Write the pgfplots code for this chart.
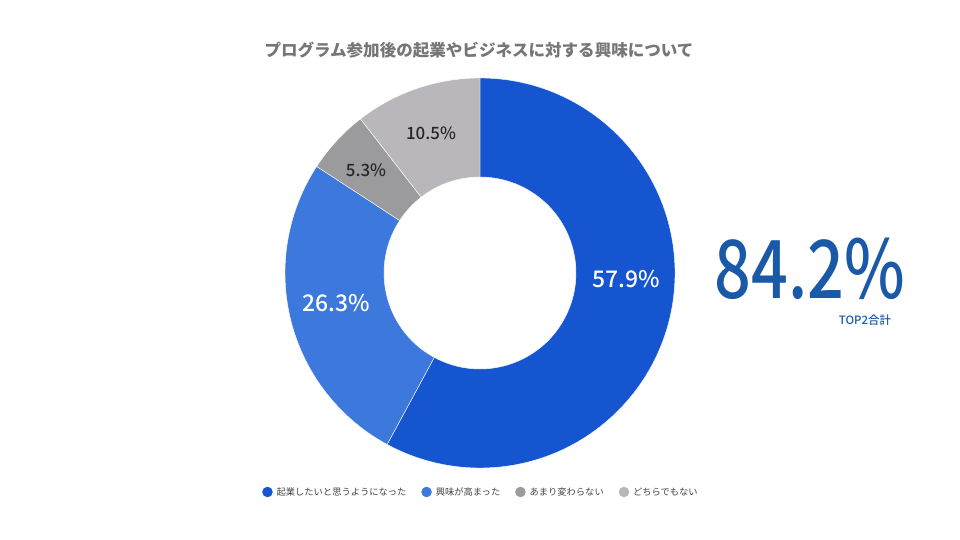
\documentclass[border=0pt]{standalone}
\usepackage{pgfplots}
\pgfplotsset{compat=1.18}
\usepackage{fontspec}
\setmainfont{Noto Sans CJK JP}
\newfontfamily\medfont{Noto Sans CJK JP Medium}
\definecolor{cA}{HTML}{1555D0}
\definecolor{cB}{HTML}{3D78DC}
\definecolor{cC}{HTML}{9B9A9D}
\definecolor{cD}{HTML}{B9B7BB}
\definecolor{ctitle}{HTML}{767676}
\definecolor{cbig}{HTML}{1A58A8}
\definecolor{clegend}{HTML}{444444}
\begin{document}
\begin{tikzpicture}
\begin{axis}[
  x=1bp, y=1bp, xmin=0, xmax=960, ymin=0, ymax=540,
  hide axis, clip=false,
  legend columns=4,
  legend style={at={(axis cs:481,48)}, anchor=center, draw=none, fill=none,
    font=\fontsize{9.3}{11}\selectfont\color{clegend},
    /tikz/every odd column/.append style={column sep=2bp},
    /tikz/every even column/.append style={column sep=13bp}},
  legend image code/.code={\fill[#1] (0bp,0bp) circle[radius=5bp];},
]
\addlegendimage{cA}\addlegendentry{起業したいと思うようになった}
\addlegendimage{cB}\addlegendentry{興味が高まった}
\addlegendimage{cC}\addlegendentry{あまり変わらない}
\addlegendimage{cD}\addlegendentry{どちらでもない}
\path (axis cs:0,0) rectangle (axis cs:960,540);
\gdef\cum{0}
\foreach \v/\col in {57.9/cA,26.3/cB,5.3/cC,10.5/cD}{
  \pgfmathsetmacro\aone{90-\cum*3.6}
  \pgfmathsetmacro\atwo{90-(\cum+\v)*3.6}
  \edef\temp{\noexpand\fill[\col,draw=white,line width=0.4bp] ([shift={(\aone:195bp)}]axis cs:480,267) arc[start angle=\aone,end angle=\atwo,radius=195bp] -- ([shift={(\atwo:96bp)}]axis cs:480,267) arc[start angle=\atwo,end angle=\aone,radius=96bp] -- cycle;}
  \temp
  \pgfmathsetmacro\newcum{\cum+\v}
  \global\let\cum\newcum
}
\node[font=\fontsize{16.6}{20}\selectfont\bfseries, text=ctitle] at (axis cs:479,490) {プログラム参加後の起業やビジネスに対する興味について};
\node[font=\medfont\fontsize{23}{26}\selectfont, text=white] at (axis cs:626,261) {57.9\%};
\node[font=\medfont\fontsize{23}{26}\selectfont, text=white] at (axis cs:336,237) {26.3\%};
\node[font=\medfont\fontsize{17}{20}\selectfont, text=black!85] at (axis cs:366,370) {5.3\%};
\node[font=\medfont\fontsize{17}{20}\selectfont, text=black!85] at (axis cs:431,407) {10.5\%};
\node[font=\medfont\fontsize{81}{90}\selectfont, text=cbig, xscale=0.8] at (axis cs:810,271) {84.2\%};
\node[font=\medfont\fontsize{11.5}{14}\selectfont, text=cbig] at (axis cs:865,220) {TOP2合計};
\end{axis}
\end{tikzpicture}
\end{document}
